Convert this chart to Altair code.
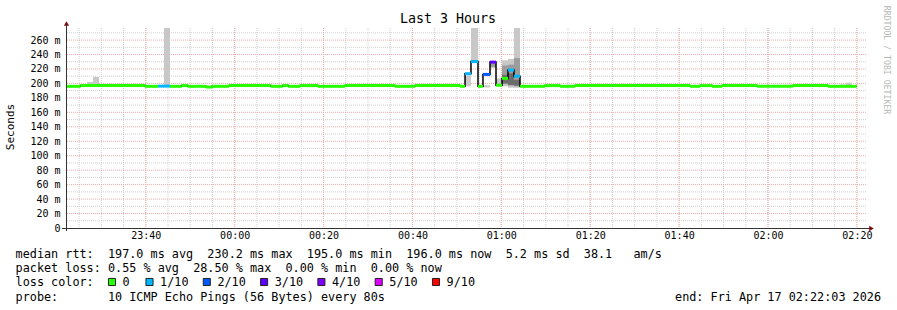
import altair as alt
import pandas as pd

MONO = "DejaVu Sans Mono"

# ---------------- data ----------------
# median rtt (ms) as step segments: start time, value, loss bucket
med_start = ["23:22:03", "23:25:21", "23:39:50", "23:42:45", "23:45:27", "23:48:05",
             "23:49:26", "23:53:33", "23:54:54", "23:58:44", "00:08:06", "00:10:48",
             "00:12:04", "00:14:42", "00:18:45", "00:24:50", "00:36:05", "00:40:35",
             "00:50:42", "00:51:50", "00:53:10", "00:54:45", "00:55:52", "00:57:27",
             "00:58:48", "01:00:09", "01:01:30", "01:02:51", "01:04:12", "01:09:50",
             "01:13:12", "01:16:35", "01:42:27", "01:44:42", "01:47:24", "01:49:39",
             "01:57:32", "02:05:38", "02:13:30"]
med_value = [196.0, 197.2, 196.0, 196.3, 196.0, 197.0,
             196.0, 195.0, 196.0, 197.0, 196.0, 197.0,
             196.0, 197.0, 196.0, 197.0, 196.0, 197.0,
             196.0, 213.5, 230.2, 196.0, 212.5, 229.5,
             197.5, 207.0, 218.5, 210.0, 196.0, 197.0,
             196.0, 197.0, 196.0, 197.0, 196.0, 197.0,
             196.0, 197.0, 196.0]
med_loss = ["0", "0", "0", "1/10", "0", "0",
            "0", "0", "0", "0", "0", "0",
            "0", "0", "0", "0", "0", "0",
            "0", "1/10", "1/10", "0", "2/10", "3/10",
            "0", "0", "1/10", "1/10", "0", "0",
            "0", "0", "0", "0", "0", "0",
            "0", "0", "0"]
data_end = "02:19:57"

# smoke (spread of the individual pings)
smoke_start = ["23:26:47", "23:28:08", "23:44:06", "00:51:50", "00:53:10", "00:55:52",
               "00:57:27", "00:58:48", "01:00:09", "01:01:30", "01:02:51",
               "01:00:09", "01:01:30", "01:02:51",
               "01:00:09", "01:01:30", "01:02:51",
               "02:16:12", "02:17:33"]
smoke_end = ["23:28:08", "23:29:29", "23:45:27", "00:53:10", "00:54:45", "00:57:27",
             "00:58:48", "01:00:09", "01:01:30", "01:02:51", "01:04:12",
             "01:01:30", "01:02:51", "01:04:12",
             "01:01:30", "01:02:51", "01:04:12",
             "02:17:33", "02:18:54"]
smoke_lo = [196, 196, 196, 196, 230, 194.5,
            222, 199, 196, 194, 194,
            199, 197, 196,
            200, 198, 197,
            196, 196]
smoke_hi = [202, 209, 276.7, 211, 276.7, 197.5,
            229, 207, 232, 234, 276.7,
            225, 226, 235,
            212, 214, 205,
            198.5, 201]
smoke_shade = ["light", "light", "light", "light", "light", "light",
               "mid", "light", "light", "light", "light",
               "mid", "mid", "mid",
               "dark", "dark", "dark",
               "light", "light"]

loss_labels = ["0", "1/10", "2/10", "3/10", "4/10", "5/10", "9/10"]
loss_colors = ["#26ff00", "#00b8ff", "#0059ff", "#5e00ff", "#7e00ff", "#dd00ff", "#ff0000"]

x_tick_labels = ["23:40", "00:00", "00:20", "00:40", "01:00", "01:20", "01:40", "02:00", "02:20"]
y_tick_values = [0, 20, 40, 60, 80, 100, 120, 140, 160, 180, 200, 220, 240, 260]
y_minor_values = [10, 30, 50, 70, 90, 110, 130, 150, 170, 190, 210, 230, 250, 270]
y_max = 276.7
range_start = "23:22:03"
range_end = "02:22:03"

title_text = "Last 3 Hours"
y_title = "Seconds"
watermark = "RRDTOOL / TOBI OETIKER"
legend_lines = [
    "median rtt:  197.0 ms avg  230.2 ms max  195.0 ms min  196.0 ms now  5.2 ms sd  38.1   am/s",
    "packet loss: 0.55 % avg  28.50 % max  0.00 % min  0.00 % now",
    "loss color:",
    "probe:       10 ICMP Echo Pings (56 Bytes) every 80s",
]
end_text = "end: Fri Apr 17 02:22:03 2026"


# ---------------- helpers ----------------
def ts(hms):
    h = int(hms[:2])
    day = "2026-04-16" if h >= 12 else "2026-04-17"
    return f"{day}T{hms}Z"


def dt(hms):
    h, m, s = (int(v) for v in hms.split(":"))
    d = 16 if h >= 12 else 17
    return alt.DateTime(year=2026, month=4, date=d, hours=h, minutes=m, seconds=s, utc=True)


NB = "\u00a0"


def keep_spaces(s):
    return s.replace(" ", NB)


seg_end = med_start[1:] + [data_end]
med_df = pd.DataFrame({
    "t": [ts(s) for s in med_start],
    "t2": [ts(s) for s in seg_end],
    "v": med_value,
    "loss": med_loss,
})
step_df = pd.DataFrame({
    "t": [ts(s) for s in med_start] + [ts(data_end)],
    "v": med_value + [med_value[-1]],
})
smoke_df = pd.DataFrame({
    "t": [ts(s) for s in smoke_start],
    "t2": [ts(s) for s in smoke_end],
    "lo": smoke_lo,
    "hi": smoke_hi,
    "shade": smoke_shade,
})

minor_times = pd.date_range("2026-04-16T23:25:00", "2026-04-17T02:20:00", freq="5min")
vminor_df = pd.DataFrame({"t": [d.strftime("%Y-%m-%dT%H:%M:%SZ") for d in minor_times]})
vmajor_df = pd.DataFrame({"t": [ts(s + ":00") for s in x_tick_labels]})
hminor_df = pd.DataFrame({"v": y_minor_values})
hmajor_df = pd.DataFrame({"v": y_tick_values[1:]})
one = pd.DataFrame({"k": [0]})

xscale = alt.Scale(type="utc", domain=[dt(range_start), dt(range_end)])
yscale = alt.Scale(domain=[0, y_max], nice=False, zero=True)

x_axis = alt.Axis(values=[dt(s + ":00") for s in x_tick_labels],
                  labelExpr="utcFormat(datum.value, '%H:%M')",
                  title=None, labelPadding=2, labelFontSize=10, labelFont=MONO,
                  labelOverlap=False, labelFlush=False, domain=False, ticks=False, grid=False)
y_axis = alt.Axis(values=y_tick_values, title=None, labelPadding=6, labelFontSize=10, labelFont=MONO,
                  labelExpr=f"datum.value == 0 ? '0{NB}{NB}' : datum.value + '{NB}m'",
                  labelOverlap=False, domain=False, ticks=False, grid=False)


def X(field):
    return alt.X(field, scale=xscale, axis=x_axis, title=None)


def Y(field):
    return alt.Y(field, scale=yscale, axis=y_axis, title=None)


GRID_MINOR = "#cfcfcf"
GRID_MAJOR = "#f2aaaa"

g_vminor = alt.Chart(vminor_df).mark_rule(color=GRID_MINOR, strokeDash=[1, 1], strokeWidth=1).encode(x=X("t:T"))
g_hminor = alt.Chart(hminor_df).mark_rule(color=GRID_MINOR, strokeDash=[1, 1], strokeWidth=1).encode(y=Y("v:Q"))
g_vmajor = alt.Chart(vmajor_df).mark_rule(color=GRID_MAJOR, strokeDash=[1, 1], strokeWidth=1).encode(x=X("t:T"))
g_hmajor = alt.Chart(hmajor_df).mark_rule(color=GRID_MAJOR, strokeDash=[1, 1], strokeWidth=1).encode(y=Y("v:Q"))

smoke = alt.Chart(smoke_df).mark_rect().encode(
    x=X("t:T"), x2="t2:T",
    y=Y("lo:Q"), y2="hi:Q",
    fill=alt.Fill("shade:N", scale=alt.Scale(domain=["light", "mid", "dark"],
                                             range=["#c8c8c8", "#9c9c9c", "#6c6c6c"]), legend=None),
)

step_line = alt.Chart(step_df).mark_line(interpolate="step-after", color="#000000", strokeWidth=1.5).encode(
    x=X("t:T"), y=Y("v:Q"))

med = alt.Chart(med_df).mark_rule(strokeWidth=3).encode(
    x=X("t:T"), x2="t2:T",
    y=Y("v:Q"),
    stroke=alt.Stroke("loss:N", scale=alt.Scale(domain=loss_labels, range=loss_colors), legend=None),
)

AXIS_COL = "#333333"
ARROW_COL = "#7a1010"
xaxis_line = alt.Chart(one).mark_rule(color=AXIS_COL, strokeWidth=1).encode(
    x=alt.value(-4), x2=alt.value(806), y=alt.value(200.5))
yaxis_line = alt.Chart(one).mark_rule(color=AXIS_COL, strokeWidth=1).encode(
    x=alt.value(0.5), y=alt.value(-6), y2=alt.value(203))
arrow_up = alt.Chart(one).mark_point(shape="triangle-up", filled=True, size=28, color=ARROW_COL, opacity=1).encode(
    x=alt.value(0.5), y=alt.value(-4.5))
arrow_right = alt.Chart(one).mark_point(shape="triangle-right", filled=True, size=28, color=ARROW_COL, opacity=1).encode(
    x=alt.value(805.5), y=alt.value(200.5))


def txt(s, x, y, size=11.8, align="left", angle=0, color="#000000"):
    return alt.Chart(one).mark_text(text=keep_spaces(s), font=MONO, fontSize=size, align=align, baseline="middle",
                                    angle=angle, color=color).encode(x=alt.value(x), y=alt.value(y))


texts = [
    txt(title_text, 382, -9, size=13.3, align="center"),
    txt(y_title, -55, 99, size=11, align="center", angle=270),
    txt(watermark, 820, 32, size=8.2, align="center", angle=90, color="#b8b8b8"),
    txt(legend_lines[0], -50.4, 225.5),
    txt(legend_lines[1], -50.4, 239.8),
    txt(legend_lines[2], -50.4, 254),
    txt(legend_lines[3], -50.4, 268.5),
    txt(end_text, 815, 268.5, align="right"),
]

box_x = [112] + [149.5 + i * 57.3 for i in range(6)]
legend_items = []
for i, (lab, col) in enumerate(zip(loss_labels, loss_colors)):
    cx = box_x[i] - 66
    legend_items.append(
        alt.Chart(one).mark_square(size=50, filled=True, color=col, stroke="#222222", strokeWidth=1, opacity=1)
        .encode(x=alt.value(cx), y=alt.value(254)))
    legend_items.append(txt(lab, cx + 10.6, 254))

chart = alt.layer(
    g_vminor, g_hminor, g_vmajor, g_hmajor, smoke, step_line, med,
    xaxis_line, yaxis_line, arrow_up, arrow_right, *texts, *legend_items
).resolve_scale(
    fill="independent", stroke="independent"
).properties(
    width=800, height=200,
    padding={"left": 66, "top": 28, "right": 31, "bottom": 82},
    autosize=alt.AutoSizeParams(type="none"),
).configure(background="white").configure_view(strokeWidth=0).configure_axis(
    domain=False, ticks=False, grid=False, labelColor="#000000"
)

chart.save("out.html", embed_options={"renderer": "svg", "actions": False})
